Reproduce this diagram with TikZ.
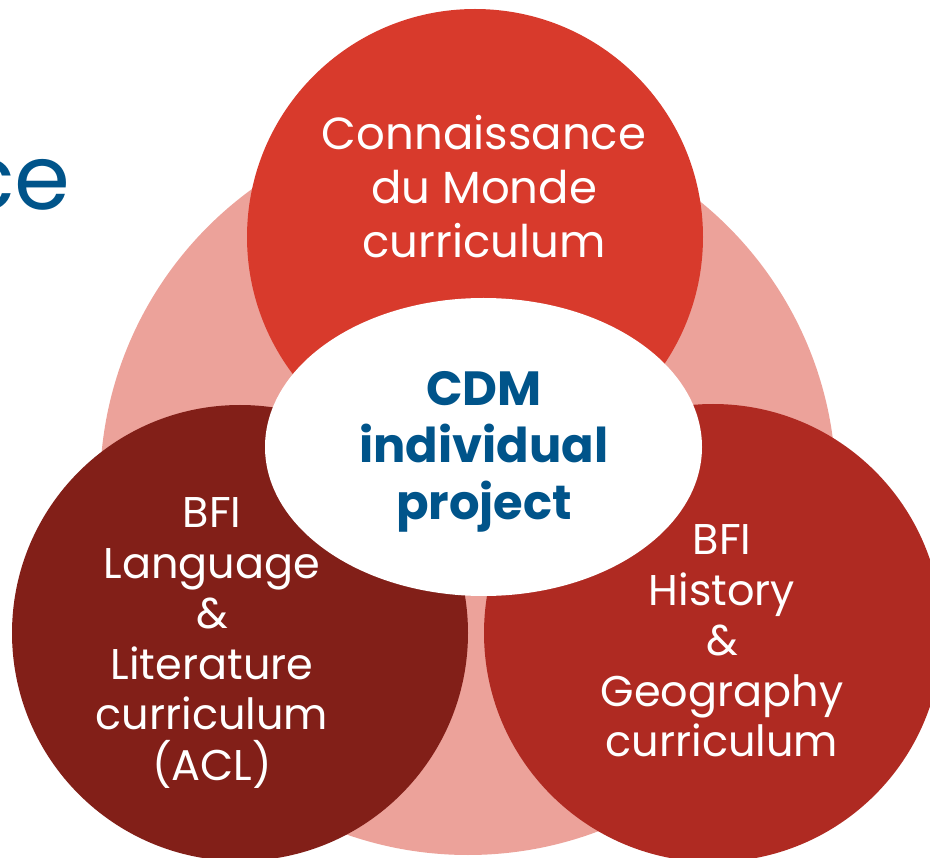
\documentclass[tikz,border=0pt]{standalone}
\usepackage{fontspec}
\setmainfont{Poppins}
\usetikzlibrary{shapes.geometric}
\definecolor{pinkbg}{HTML}{ECA29A}
\definecolor{topred}{HTML}{D83A2C}
\definecolor{darkred}{HTML}{821F18}
\definecolor{midred}{HTML}{AF2A22}
\definecolor{cdmblue}{HTML}{00548A}
\tikzset{
  disc/.style={circle, inner sep=0pt, draw=none},
  lbl/.style={text=white, align=center, font=\fontsize{43}{50.5}\selectfont, inner sep=0pt},
}
\begin{document}
\begin{tikzpicture}[x=1pt,y=-1pt]
\useasboundingbox (0,0) rectangle (930,858);
\node[disc, fill=pinkbg, minimum size=736pt] (bg) at (468,487) {};
\node[disc, fill=topred, minimum size=456pt] (topc) at (475,237) {};
\node[disc, fill=darkred, minimum size=456pt] (leftc) at (240,633) {};
\node[disc, fill=midred, minimum size=458pt] (rightc) at (713,633) {};
\node[ellipse, fill=white, inner sep=0pt, minimum width=437pt, minimum height=298pt] (mid) at (483.5,447) {};
\node[lbl, font=\fontsize{45}{54}\selectfont] (toptxt) at (484,187) {Connaissance\\du Monde\\curriculum};
\node[lbl] (lefttxt) at (212,643) {BFI\\Language\\\&\\Literature\\curriculum\\(ACL)};
\node[lbl] (righttxt) at (722,641) {BFI\\History\\\&\\Geography\\curriculum};
\node[text=cdmblue, align=center, inner sep=0pt, font=\fontsize{48}{57}\bfseries\selectfont] (cdm) at (484,452) {CDM\\individual\\project};
\node[text=cdmblue, anchor=base east, inner sep=0pt, font=\fontsize{90}{100}\selectfont] (ce) at (71,210) {ce};
\end{tikzpicture}
\end{document}
